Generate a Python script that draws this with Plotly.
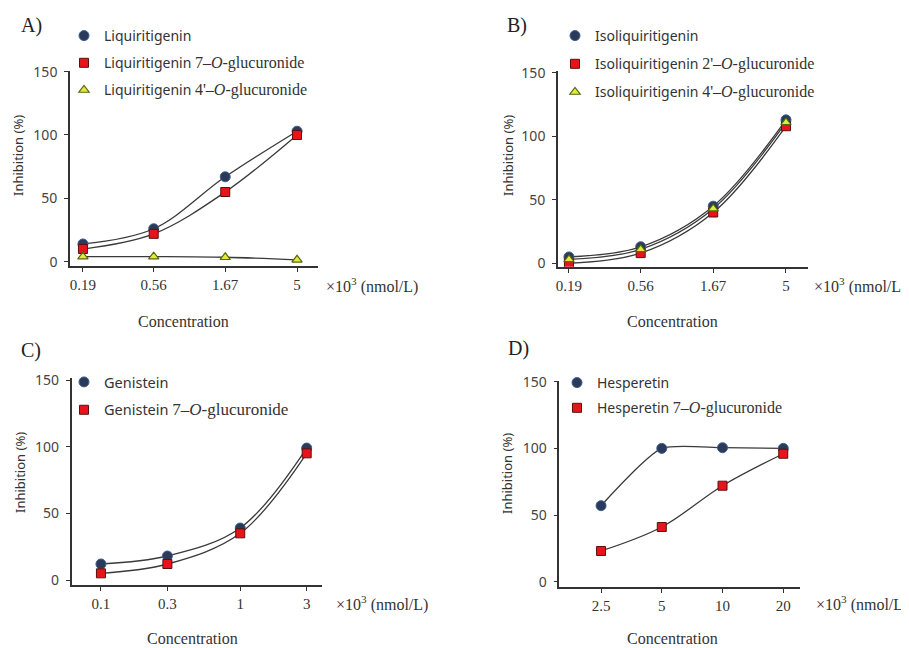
import plotly.graph_objects as go

W, H = 909, 648
OFF = 8  # page offset of the plot in the browser window

# ---------------- data ----------------
conc_A = [0.19, 0.56, 1.67, 5]
conc_A_labels = ["0.19", "0.56", "1.67", "5"]
liq = [14, 26, 67, 103]
liq_7og = [10, 22, 55, 100]
liq_4og = [4, 4, 3.5, 1.5]

conc_B = [0.19, 0.56, 1.67, 5]
conc_B_labels = ["0.19", "0.56", "1.67", "5"]
isoliq = [5, 13, 45, 113]
isoliq_2og = [0, 8, 40, 108]
isoliq_4og = [3, 11, 43, 111]

conc_C = [0.1, 0.3, 1, 3]
conc_C_labels = ["0.1", "0.3", "1", "3"]
gen = [12, 18, 39, 99]
gen_7og = [5, 12, 35, 95]

conc_D = [2.5, 5, 10, 20]
conc_D_labels = ["2.5", "5", "10", "20"]
hes = [57, 100, 100.5, 100]
hes_7og = [23, 41, 72, 96]

y_ticks = [0, 50, 100, 150]

SERIF = "Liberation Serif"
SANS = "Noto Sans"

def gluc(prefix, pos, size=16):
    return (f"{prefix} <span style='font-family:{SERIF};font-size:{size}px'>{pos}\u2013<i>O</i>-glucuronide</span>")

CIRCLE = dict(symbol="circle", size=10, color="#2a3a58", line=dict(color="#3f5f8f", width=1))
SQUARE = dict(symbol="square", size=9, color="#e8141b", line=dict(color="#5a1010", width=1))
TRI = dict(symbol="triangle-up", size=9, color="#e8e83a", line=dict(color="#4f6a10", width=1.2))

panels = [
    ("A", conc_A, conc_A_labels, [("Liquiritigenin", liq, CIRCLE, 1.0),
                                  (gluc("Liquiritigenin", "7"), liq_7og, SQUARE, 1.0),
                                  (gluc("Liquiritigenin", "4'"), liq_4og, TRI, 1.0)]),
    ("B", conc_B, conc_B_labels, [("Isoliquiritigenin", isoliq, CIRCLE, 1.0),
                                  (gluc("Isoliquiritigenin", "2'"), isoliq_2og, SQUARE, 1.0),
                                  (gluc("Isoliquiritigenin", "4'"), isoliq_4og, TRI, 1.0)]),
    ("C", conc_C, conc_C_labels, [("Genistein", gen, CIRCLE, 1.0),
                                  (gluc("Genistein", "7", 17), gen_7og, SQUARE, 1.0)]),
    ("D", conc_D, conc_D_labels, [("Hesperetin", hes, CIRCLE, 0.6),
                                  (gluc("Hesperetin", "7"), hes_7og, SQUARE, 1.0)]),
]

geo = {
    "A": dict(xd=(70, 318), yd=(71, 266), xr=(-0.807, 0.838), yr=(-3.4, 150.5)),
    "B": dict(xd=(558, 808), yd=(71, 266.7), xr=(-0.793, 0.843), yr=(-2.7, 151.5)),
    "C": dict(xd=(71.7, 321.7), yd=(378.3, 585), xr=(-1.21, 0.585), yr=(-3.75, 151.3)),
    "D": dict(xd=(559.3, 800), yd=(380.7, 586.7), xr=(0.191, 1.384), yr=(-3.8, 150.8)),
}
text_pos = {
    "A": dict(lab=(31, 25), leg=(64, 20), gap=6, ylab=(18, 156), unit=(324, 285), conc=(183, 322), legfont=14),
    "B": dict(lab=(517, 25), leg=(555, 20), gap=7, ylab=(508, 156), unit=(812, 285), conc=(672, 322), legfont=14),
    "C": dict(lab=(31, 350), leg=(64, 366), gap=6, ylab=(20, 473), unit=(334, 603), conc=(192, 638), legfont=14.5),
    "D": dict(lab=(518, 348), leg=(557, 367), gap=4, ylab=(507, 473), unit=(814, 603), conc=(672, 638), legfont=14),
}

def fx(p):
    return (p - OFF) / W

def fy(p):
    return 1 - (p - OFF) / H

fig = go.Figure()
annotations = []
layout = {}

for i, (name, conc, labels, series) in enumerate(panels):
    k = "" if i == 0 else str(i + 1)
    g = geo[name]
    tp = text_pos[name]
    legname = "legend" + k
    for j, (sname, vals, mk, sm) in enumerate(series):
        fig.add_trace(go.Scatter(
            x=conc, y=vals, mode="lines",
            line=dict(color="#3a3a3a", width=1.3, shape="spline", smoothing=sm),
            showlegend=False, xaxis="x" + k, yaxis="y" + k, hoverinfo="skip"))
    for j, (sname, vals, mk, sm) in enumerate(series):
        fig.add_trace(go.Scatter(
            x=conc, y=vals, mode="markers", marker=mk, name=sname,
            legend=legname, legendgroup=f"{name}{j}",
            xaxis="x" + k, yaxis="y" + k))
    layout["xaxis" + k] = dict(
        domain=[fx(g["xd"][0]), fx(g["xd"][1])], anchor="y" + k, type="log",
        range=list(g["xr"]), tickvals=conc, ticktext=labels,
        showline=True, linecolor="#333333", linewidth=1.6, ticks="outside", ticklen=4,
        tickcolor="#333333", showgrid=False, zeroline=False, automargin=False,
        tickfont=dict(family=SERIF, size=15, color="#333333"))
    layout["yaxis" + k] = dict(
        domain=[fy(g["yd"][1]), fy(g["yd"][0])], anchor="x" + k,
        range=list(g["yr"]), tickvals=y_ticks,
        showline=True, linecolor="#333333", linewidth=1.6, ticks="outside", ticklen=4,
        tickcolor="#333333", showgrid=False, zeroline=False, automargin=False,
        ticklabelstandoff=4,
        tickfont=dict(family=SANS, size=14, color="#444444"))
    layout[legname] = dict(
        x=fx(tp["leg"][0]), y=fy(tp["leg"][1]), xanchor="left", yanchor="top",
        bgcolor="rgba(0,0,0,0)", traceorder="grouped", tracegroupgap=tp["gap"],
        font=dict(family=SANS, size=tp["legfont"], color="#333333"))
    annotations += [
        dict(text=f"{name})", x=fx(tp["lab"][0]), y=fy(tp["lab"][1]), xref="paper", yref="paper",
             xanchor="center", yanchor="middle",
             showarrow=False, font=dict(family=SERIF, size=20, color="#222222")),
        dict(text="Inhibition (%)", x=fx(tp["ylab"][0]), y=fy(tp["ylab"][1]), xref="paper", yref="paper",
             xanchor="center", yanchor="middle",
             showarrow=False, textangle=-90, font=dict(family=SANS, size=13, color="#333333")),
        dict(text="\u00d710<sup>3</sup> (nmol/L)", x=fx(tp["unit"][0]), y=fy(tp["unit"][1]),
             xref="paper", yref="paper", xanchor="left", yanchor="middle", showarrow=False,
             font=dict(family=SERIF, size=16, color="#333333")),
        dict(text="Concentration", x=fx(tp["conc"][0]), y=fy(tp["conc"][1]), xref="paper", yref="paper",
             xanchor="center", yanchor="middle", borderpad=0,
             showarrow=False, font=dict(family=SERIF, size=16, color="#333333")),
    ]

fig.update_layout(
    width=W, height=H, margin=dict(l=0, r=0, t=0, b=0, autoexpand=False),
    paper_bgcolor="white", plot_bgcolor="white",
    annotations=annotations, **layout)

fig.write_html("out.html")
